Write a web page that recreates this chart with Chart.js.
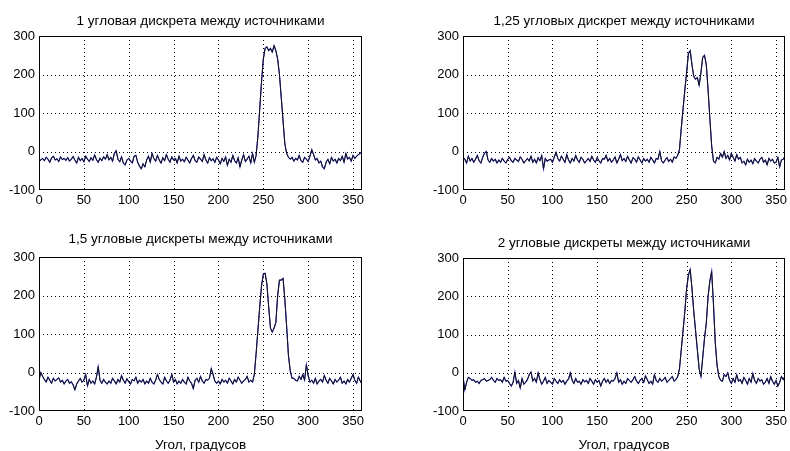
<!DOCTYPE html>
<html><head><meta charset="utf-8">
<script src="https://cdn.jsdelivr.net/npm/chart.js@4.4.1/dist/chart.umd.min.js"></script>
<style>
html,body{margin:0;padding:0;background:#fff;}
body{width:790px;height:451px;overflow:hidden;position:relative;}
canvas{position:absolute;}
</style></head>
<body>
<canvas id="p1" width="395" height="225" style="left:0;top:0"></canvas>
<canvas id="p2" width="395" height="225" style="left:395px;top:0"></canvas>
<canvas id="p3" width="395" height="228" style="left:0;top:225px"></canvas>
<canvas id="p4" width="395" height="228" style="left:395px;top:225px"></canvas>
<script>
// ---- data (angle sampled every 2 degrees, 0..360) ----
const ANGLE_STEP = 2;
const angles = Array.from({length: 181}, (_, i) => i * ANGLE_STEP);
const xTicks = [0, 50, 100, 150, 200, 250, 300, 350];
const yTicks = [-100, 0, 100, 200, 300];
const titles = [
  "1 угловая дискрета между источниками",
  "1,25 угловых дискрет между источниками",
  "1,5 угловые дискреты между источниками",
  "2 угловые дискреты между источниками"
];
const xLabel = "Угол, градусов";

const curve1 = [
  -25,-22,-18,-24,-15,-20,-28,-17,-12,-22,-19,-26,-14,-21,-18,-23,-16,-25,-20,-13,
  -22,-30,-15,-24,-18,-27,-12,-20,-26,-16,-23,-9,-21,-28,-17,-24,-14,-20,-8,-22,
  -15,-25,-5,2,-20,-27,-14,-30,-35,-22,-18,-25,-30,-12,-10,-28,-38,-45,-32,-40,
  -22,-12,-28,-5,-18,-25,-10,-22,-30,-16,-24,-8,-20,-28,-14,-22,-18,-30,-12,-25,
  -20,-27,-15,-22,-30,-18,-10,-24,-28,-14,-20,-26,-8,-22,-30,-16,-24,-19,-28,-15,
  -22,-32,-18,-26,-14,-36,-20,-28,-10,-24,-30,-16,-40,-22,-8,-26,-20,-12,-30,-5,
  -28,-10,40,110,180,240,268,272,262,268,258,275,262,240,200,140,80,20,-5,-15,-20,
  -15,-25,-18,-22,-10,-24,-28,-15,-20,-26,-12,5,-8,-22,-18,-30,-25,-40,-45,-28,
  -20,-32,-15,-25,-20,-30,-18,-24,-12,-28,-5,-20,-15,-25,-10,-18,-12,-8,-5,0
];
const curve2 = [
  -15,-20,-30,-12,-25,-18,-28,-20,-10,-24,-30,-15,-5,0,-22,-28,-18,-25,-20,-30,
  -22,-28,-18,-25,-30,-20,-15,-24,-28,-18,-22,-26,-14,-20,-30,-24,-18,-25,-12,-28,
  -20,-30,-16,-24,-10,-45,-18,-25,-22,-20,-28,-15,-2,-18,-25,-12,-20,-28,-8,-22,
  -30,-18,-25,-10,-22,-28,-15,-20,-30,-24,-18,-26,-12,-22,-28,-16,-24,-30,-18,-20,
  -10,-25,-18,-28,-22,-14,-30,-20,-8,-24,-18,-26,-12,-22,-30,-16,-20,-28,-14,-22,
  -30,-18,-25,-20,-28,-15,-22,-30,-18,-20,0,-24,-30,-22,-16,-26,-20,-28,-14,-18,
  -10,5,60,110,160,205,255,262,225,195,188,192,172,205,245,250,225,160,85,15,-25,-30,-15,
  -20,-5,-15,0,-18,-10,-22,-5,-15,-25,-8,-20,-15,-30,-25,-35,-20,-28,-22,-32,
  -18,-25,-30,-20,-15,-28,-22,-35,-18,-25,-20,-30,-28,-15,-40,-22,-20,-12
];
const curve3 = [
  -20,0,-10,-18,-25,-12,-20,-28,-15,-22,-18,-14,-25,-20,-30,-22,-18,-28,-24,-32,
  -45,-30,-22,-15,-25,-20,-5,-35,-18,-28,-22,-30,-12,15,-20,-28,-18,-25,-30,-22,
  -28,-15,-22,-30,-18,-25,-8,-20,-28,-16,-24,-30,-18,-22,-12,-28,-20,-25,-18,-30,
  -22,-28,-15,-25,-30,-20,-5,-18,-25,-30,-12,-22,-28,-20,-5,-25,-18,-30,-22,-28,
  -18,-25,-30,-12,-22,-28,-42,-20,-15,-25,-10,-22,-28,-18,-20,-15,10,-5,-22,-28,
  -22,-30,-18,-25,-20,-28,-15,-22,-30,-18,-25,-12,-20,-28,-22,-18,-10,-25,-20,
  -25,-5,50,110,170,225,255,258,230,170,115,105,115,130,200,240,240,245,190,120,45,5,-15,-15,-20,
  -22,-10,-18,-5,-20,20,-8,-25,-20,-28,-15,-30,-22,-18,-25,-8,-20,-28,-15,-22,
  -30,-18,-25,-20,-12,-28,-22,-30,-18,-25,-15,-5,-20,-28,-12,-22,-30
];
const curve4 = [
  -10,-45,-25,-12,-15,-20,-18,-25,-22,-28,-20,-18,-15,-22,-20,-18,-12,-20,-25,-15,
  -20,-18,-25,-12,-22,-20,-28,-35,-25,2,-28,-20,-40,-15,-30,-25,-18,-5,2,-22,
  -15,-25,0,-18,-30,-22,-12,-28,-20,-25,-30,-15,-22,-28,-18,-25,-20,-30,-22,-16,
  0,-20,-28,-15,-25,-22,-30,-18,-24,-20,-28,-15,-22,-30,-18,-25,-20,-35,-22,-15,
  -25,-18,-28,-20,-22,-15,0,-25,-18,-30,-22,-28,-15,-20,-25,-18,-10,-22,-28,-20,
  -15,-25,-8,-18,-28,-22,-30,-5,-20,-25,-15,-22,-18,-12,-25,-20,-15,-10,-22,-18,
  -10,10,60,110,160,220,255,270,220,160,110,60,10,-10,40,90,130,200,240,265,180,80,20,-10,-20,
  -22,-5,-10,0,-20,-28,-15,-25,-5,-22,-18,-28,-12,-20,-30,-15,-25,-2,-20,-28,
  -15,-22,-18,-30,-25,-15,-28,-10,-22,-30,-20,-35,-25,-10,-18,-8
];
const curves = [curve1, curve2, curve3, curve4];

// ---- layout per panel (style only) ----
const panels = [
  {id: 'p1', yW: 39, padR: 33, padT: 36, xH: 35, titleY: 21, xl: false},
  {id: 'p2', yW: 68, padR: 3,  padT: 36, xH: 35, titleY: 21, xl: false},
  {id: 'p3', yW: 39, padR: 33, padT: 32, xH: 42, titleY: 14.5, xl: true},
  {id: 'p4', yW: 68, padR: 3,  padT: 33, xH: 42, titleY: 18.5, xl: true}
];

const FONT = "'Liberation Sans', Arial, sans-serif";

const framePlugin = {
  id: 'frame',
  beforeDatasetsDraw(chart, args, opts) {
    const {ctx, chartArea: a, scales} = chart;
    ctx.save();
    ctx.strokeStyle = '#000';
    ctx.lineWidth = 1;
    ctx.setLineDash([1, 3]);
    xTicks.forEach(v => {
      if (v <= 0) return;
      const px = Math.round(scales.x.getPixelForValue(v)) + 0.5;
      ctx.beginPath(); ctx.moveTo(px, a.top); ctx.lineTo(px, a.bottom); ctx.stroke();
    });
    yTicks.forEach(v => {
      if (v <= -100 || v >= 300) return;
      const py = Math.round(scales.y.getPixelForValue(v)) + 0.5;
      ctx.beginPath(); ctx.moveTo(a.left, py); ctx.lineTo(a.right, py); ctx.stroke();
    });
    ctx.restore();
  },
  afterDraw(chart, args, opts) {
    const {ctx, chartArea: a} = chart;
    ctx.save();
    ctx.strokeStyle = '#000';
    ctx.lineWidth = 1;
    ctx.strokeRect(Math.round(a.left) + 0.5, Math.round(a.top) + 0.5,
      Math.round(a.right - a.left) - 1, Math.round(a.bottom - a.top) - 1);
    // title, centred over the plot area
    ctx.fillStyle = '#000';
    ctx.font = "13.5px " + FONT;
    ctx.textAlign = 'center';
    ctx.textBaseline = 'middle';
    ctx.fillText(opts.text, (a.left + a.right) / 2, opts.y);
    ctx.restore();
  }
};

panels.forEach((p, k) => {
  const pts = curves[k].map((v, i) => ({x: angles[i], y: v}));
  new Chart(document.getElementById(p.id), {
    type: 'line',
    data: {
      datasets: [
        {data: pts, borderColor: '#141414', borderWidth: 1, pointRadius: 0, tension: 0, order: 1},
        {data: pts, borderColor: '#1a1ad0', borderWidth: 1.1, pointRadius: 0, tension: 0, order: 2}
      ]
    },
    options: {
      responsive: false,
      animation: false,
      devicePixelRatio: 1,
      layout: {padding: {left: 0, right: p.padR, top: p.padT, bottom: 0}},
      plugins: {
        legend: {display: false},
        tooltip: {enabled: false},
        title: {display: false},
        frame: {text: titles[k], y: p.titleY}
      },
      scales: {
        x: {
          type: 'linear', min: 0, max: 360,
          afterBuildTicks(s) { s.ticks = xTicks.map(v => ({value: v})); },
          afterFit(s) { s.height = p.xH; },
          ticks: {color: '#000', font: {family: FONT, size: 13}, padding: 3, maxRotation: 0, autoSkip: false},
          grid: {display: false, drawTicks: false},
          border: {display: false},
          title: p.xl ? {display: true, text: xLabel, color: '#000', font: {family: FONT, size: 13.5}, padding: {top: 0, bottom: 0}} : {display: false}
        },
        y: {
          type: 'linear', min: -100, max: 300,
          afterBuildTicks(s) { s.ticks = yTicks.map(v => ({value: v})); },
          afterFit(s) { s.width = p.yW; },
          ticks: {color: '#000', font: {family: FONT, size: 13}, padding: 4},
          grid: {display: false, drawTicks: false},
          border: {display: false}
        }
      }
    },
    plugins: [framePlugin]
  });
});
</script>
</body></html>
